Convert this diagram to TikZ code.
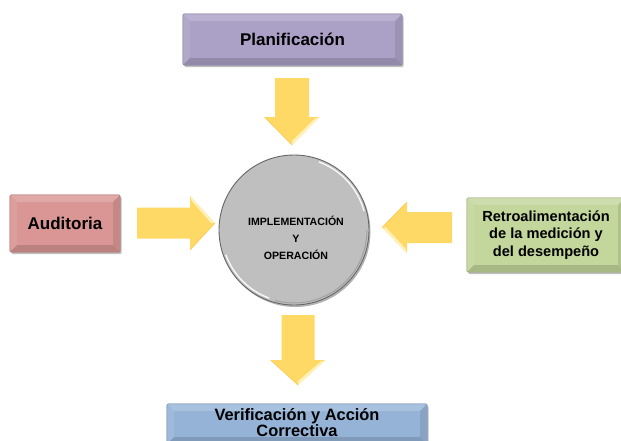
\documentclass[tikz,border=0pt]{standalone}
\usepackage{fontspec}
\setmainfont{Liberation Sans}
\usetikzlibrary{calc,backgrounds}

\definecolor{arrowyellow}{HTML}{FFD966}
\definecolor{arrowlight}{HTML}{FFF1B8}
\definecolor{planpurple}{HTML}{ABA0C6}
\definecolor{auditpink}{HTML}{D99694}
\definecolor{retrogreen}{HTML}{C3D69B}
\definecolor{verifblue}{HTML}{95B3D7}
\definecolor{ballgray}{HTML}{BFBFBF}

\tikzset{
  x=1pt, y=-1pt,
  paneltext/.style={rectangle, inner sep=0pt, align=center, text=black,
    font=\fontsize{#1}{17.5}\selectfont\bfseries},
  % block arrow pointing along local +x: length, head length, shaft half width, head half width
  pics/yarrow/.style n args={4}{code={
    \fill[arrowyellow] (0,-#3) -- (#1-#2,-#3) -- (#1-#2,-#4) -- (#1,0)
      -- (#1-#2,#4) -- (#1-#2,#3) -- (0,#3) -- cycle;
    \fill[arrowlight] (#1-#2,-#4) -- (#1,0) -- (#1-4,0) -- (#1-#2+1.5,-#4+4.5) -- cycle;
    \draw[arrowyellow!80!orange, line width=0.6pt] (#1-#2,#4) -- (#1,0);
  }}
}

% bevelled panel drawn behind a named node
\newcommand\panelbg[2]{%
  \fill[black, opacity=0.25, rounded corners=2pt]
    ([shift={(1.5pt,-2pt)}]#1.north west) rectangle ([shift={(1.5pt,-2pt)}]#1.south east);
  \fill[#2, rounded corners=1.5pt] (#1.north west) rectangle (#1.south east);
  \fill[#2!82!white] (#1.north west) -- (#1.north east)
    -- ([shift={(-7pt,-7pt)}]#1.north east) -- ([shift={(7pt,-7pt)}]#1.north west) -- cycle;
  \fill[#2!92!white] (#1.north west) -- ([shift={(7pt,-7pt)}]#1.north west)
    -- ([shift={(7pt,7pt)}]#1.south west) -- (#1.south west) -- cycle;
  \fill[#2!91!black] (#1.north east) -- ([shift={(-7pt,-7pt)}]#1.north east)
    -- ([shift={(-7pt,7pt)}]#1.south east) -- (#1.south east) -- cycle;
  \fill[#2!86!black] (#1.south west) -- ([shift={(7pt,7pt)}]#1.south west)
    -- ([shift={(-7pt,7pt)}]#1.south east) -- (#1.south east) -- cycle;
  \draw[#2!75!black, line width=0.4pt, rounded corners=1.5pt]
    (#1.north west) rectangle (#1.south east);
}

\begin{document}
\begin{tikzpicture}
\useasboundingbox (0,0) rectangle (621,440);

% panels
\node[paneltext=17, minimum width=219pt, minimum height=51pt] (plan) at (292.5,39.5) {Planificación};
\node[paneltext=17, minimum width=110pt, minimum height=57pt] (audit) at (65,223.5) {Auditoria};
\node[paneltext=14.6, minimum width=158pt, minimum height=74pt] (retro) at (546,235)
  {Retroalimentación\\de la medición y\\del desempeño};
\node[minimum width=260pt, minimum height=40pt, inner sep=0pt] (verif) at (297,424) {};
\node[paneltext=16.4, font=\fontsize{16.4}{16.5}\selectfont\bfseries] (veriftext) at (297,422.5)
  {Verificación y Acción\\Correctiva};

% central disc
\node[circle, minimum size=150pt, inner sep=0pt] (impl) at (294,230) {};
\node[paneltext=10.6, font=\fontsize{10.6}{17}\selectfont\bfseries] (impltext) at (296,238)
  {IMPLEMENTACIÓN\\Y\\OPERACIÓN};

\begin{scope}[on background layer]
  \panelbg{plan}{planpurple}
  \panelbg{audit}{auditpink}
  \panelbg{retro}{retrogreen}
  \panelbg{verif}{verifblue}
  \begin{scope}[x=1pt, y=1pt]
    \fill[black, opacity=0.3] ([shift={(1.5pt,-2pt)}]impl.center) circle[radius=75pt];
    \fill[ballgray] (impl.center) circle[radius=75pt];
    \draw[black!60, line width=0.9pt] (impl.center) circle[radius=75pt];
    \draw[white, line width=1.4pt, opacity=0.9]
      ([shift={(15:72.5pt)}]impl.center) arc[start angle=15, end angle=70, radius=72.5pt];
    \draw[white, line width=1.4pt, opacity=0.9]
      ([shift={(200:72.5pt)}]impl.center) arc[start angle=200, end angle=250, radius=72.5pt];
    \draw[black!45, line width=1pt, opacity=0.6]
      ([shift={(255:73pt)}]impl.center) arc[start angle=255, end angle=360, radius=73pt];
  \end{scope}
\end{scope}

% block arrows toward and away from the disc
\pic[rotate=-90] at (292,78) {yarrow={67}{28}{17}{27.5}};
\pic[rotate=-90] at (298,315) {yarrow={70}{25}{16.5}{27.5}};
\pic at (137,223) {yarrow={78}{25}{15.5}{27}};
\pic[rotate=180] at (452,227.5) {yarrow={70}{25}{15.5}{25.5}};

\end{tikzpicture}
\end{document}
